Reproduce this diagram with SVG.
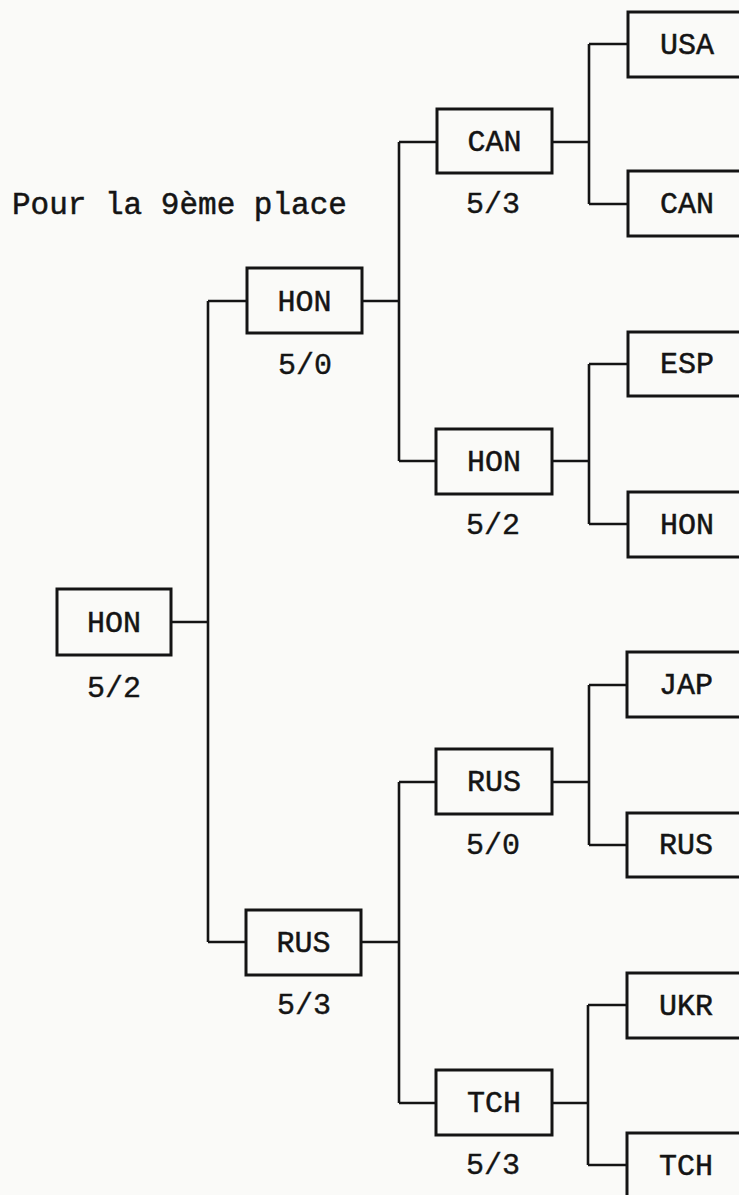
<svg xmlns="http://www.w3.org/2000/svg" width="739" height="1195" viewBox="0 0 739 1195">
  <style>
    .box { fill: none; stroke: #141414; stroke-width: 3; }
    .lbl { font-family: "Courier New", Courier, "Liberation Mono", monospace; font-size: 30px; fill: #141414; stroke: #141414; stroke-width: 0.5; text-anchor: middle; }
    .score { font-family: "Courier New", Courier, "Liberation Mono", monospace; font-size: 30px; fill: #141414; stroke: #141414; stroke-width: 0.4; text-anchor: middle; }
    .title { font-family: "Courier New", Courier, "Liberation Mono", monospace; font-size: 31px; fill: #141414; stroke: #141414; stroke-width: 0.5; }
    .conn path { fill: none; stroke: #141414; stroke-width: 2.6; }
  </style>
  <rect x="0" y="0" width="739" height="1195" fill="#fafaf8"/>

  <text class="title" x="12" y="214">Pour la 9ème place</text>

  <g id="connectors" class="conn">
    <path d="M171 622 H208 M208 301 V942 M208 301 H247 M208 942 H246"/>
    <path d="M362 301 H399 M399 142 V461 M399 142 H437 M399 461 H436"/>
    <path d="M361 942 H399 M399 782 V1103 M399 782 H436 M399 1103 H436"/>
    <path d="M552 142 H589 M589 44 V204 M589 44 H628 M589 204 H628"/>
    <path d="M552 461 H589 M589 364 V524 M589 364 H628 M589 524 H628"/>
    <path d="M552 782 H589 M589 685 V845 M589 685 H627 M589 845 H627"/>
    <path d="M552 1103 H588 M588 1005 V1165 M588 1005 H627 M588 1165 H627"/>
  </g>

  <g id="n-root-hon">
    <rect class="box" x="57" y="589" width="114" height="66"/>
    <text class="lbl" x="114" y="632">HON</text>
    <text class="score" x="114" y="697">5/2</text>
  </g>

  <g id="n-hon-2">
    <rect class="box" x="247" y="268" width="115" height="65"/>
    <text class="lbl" x="304.5" y="311">HON</text>
    <text class="score" x="305" y="374">5/0</text>
  </g>
  <g id="n-rus-2">
    <rect class="box" x="246" y="910" width="115" height="65"/>
    <text class="lbl" x="303.5" y="952">RUS</text>
    <text class="score" x="304" y="1014">5/3</text>
  </g>

  <g id="n-can-3">
    <rect class="box" x="437" y="109" width="115" height="64"/>
    <text class="lbl" x="494.5" y="151">CAN</text>
    <text class="score" x="493" y="213">5/3</text>
  </g>
  <g id="n-hon-3">
    <rect class="box" x="436" y="429" width="116" height="65"/>
    <text class="lbl" x="494" y="471">HON</text>
    <text class="score" x="493" y="534">5/2</text>
  </g>
  <g id="n-rus-3">
    <rect class="box" x="436" y="749" width="116" height="65"/>
    <text class="lbl" x="494" y="791">RUS</text>
    <text class="score" x="493" y="854">5/0</text>
  </g>
  <g id="n-tch-3">
    <rect class="box" x="436" y="1070" width="116" height="65"/>
    <text class="lbl" x="494" y="1112">TCH</text>
    <text class="score" x="493" y="1174">5/3</text>
  </g>

  <g id="n-usa">
    <rect class="box" x="628" y="12" width="120" height="65"/>
    <text class="lbl" x="687" y="54">USA</text>
  </g>
  <g id="n-can">
    <rect class="box" x="628" y="171" width="120" height="65"/>
    <text class="lbl" x="687" y="213">CAN</text>
  </g>
  <g id="n-esp">
    <rect class="box" x="628" y="332" width="120" height="64"/>
    <text class="lbl" x="687" y="373">ESP</text>
  </g>
  <g id="n-hon">
    <rect class="box" x="628" y="492" width="120" height="65"/>
    <text class="lbl" x="687" y="534">HON</text>
  </g>
  <g id="n-jap">
    <rect class="box" x="627" y="652" width="120" height="65"/>
    <text class="lbl" x="686" y="694">JAP</text>
  </g>
  <g id="n-rus">
    <rect class="box" x="627" y="813" width="120" height="64"/>
    <text class="lbl" x="686" y="854">RUS</text>
  </g>
  <g id="n-ukr">
    <rect class="box" x="627" y="973" width="120" height="65"/>
    <text class="lbl" x="686" y="1015">UKR</text>
  </g>
  <g id="n-tch">
    <rect class="box" x="627" y="1133" width="120" height="65"/>
    <text class="lbl" x="686" y="1175">TCH</text>
  </g>
</svg>
